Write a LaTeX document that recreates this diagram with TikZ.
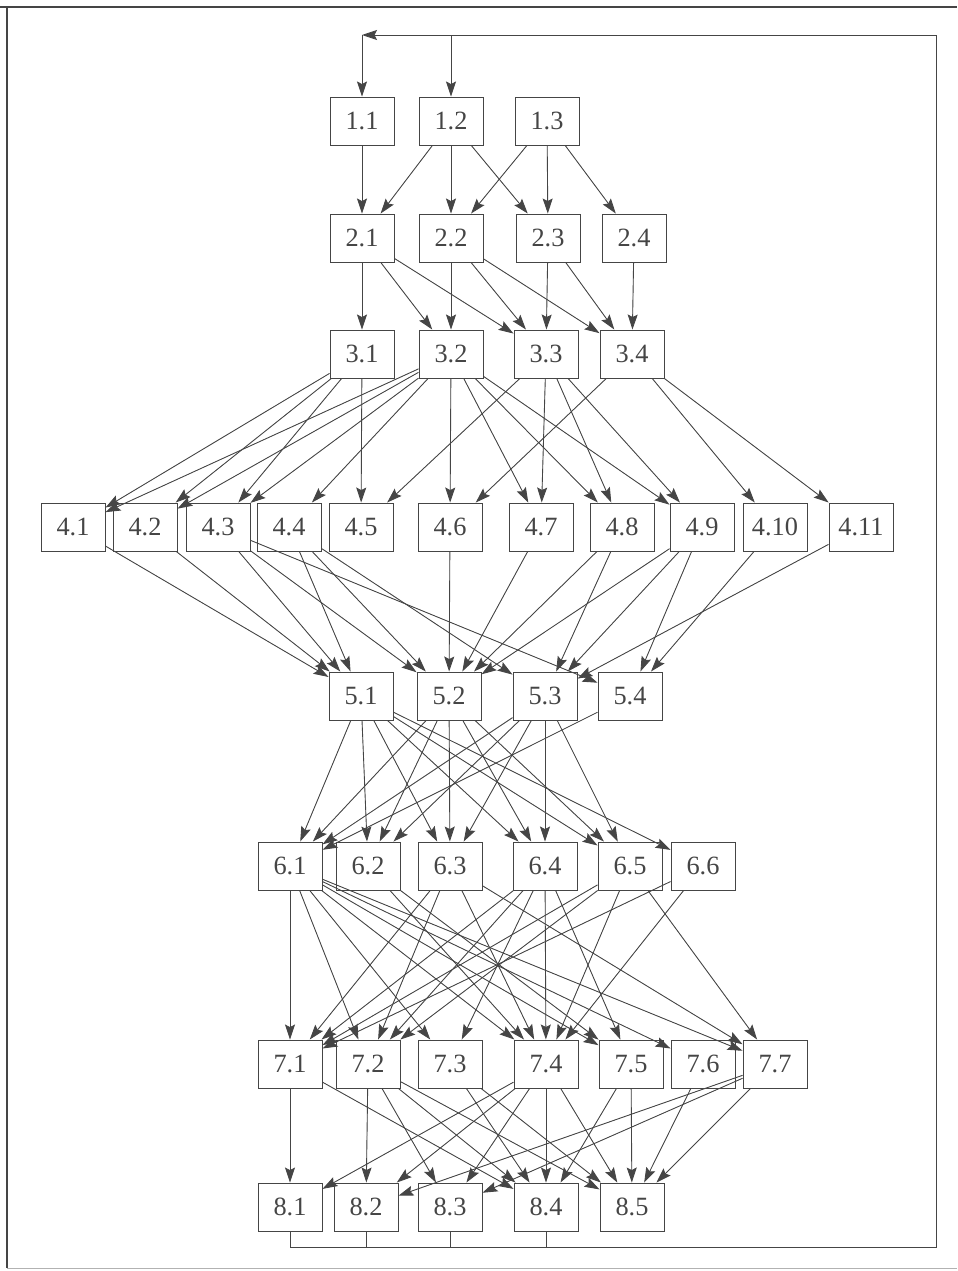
\documentclass[tikz,border=0pt]{standalone}
\usepackage{fontspec}
\setmainfont{Liberation Serif}
\usetikzlibrary{arrows.meta}
\definecolor{ink}{HTML}{454545}

\begin{document}
\begin{tikzpicture}[
        x=0.02cm, y=-0.02cm,
        box/.style={draw=ink, line width=0.55pt, minimum height=0.96cm, minimum width=1.28cm, inner sep=0pt, text=ink, font=\fontsize{15}{17}\selectfont},
        arr/.style={-{Stealth[length=3mm, width=2mm, inset=0.5mm]}, draw=ink, fill=ink, line width=0.5pt},
        wire/.style={draw=ink, line width=0.5pt}
    ]
    \useasboundingbox (0,0) rectangle (957,1271);
    % page frame
    \draw[ink, line width=1pt] (0,7) -- (957,7);
    \draw[ink, line width=1pt] (7,7) -- (7,1268);
    \draw[gray!60, line width=0.5pt] (7,1268) -- (957,1268);

    % level 1
    \node[box] (n11) at (362,121) {1.1};
    \node[box] (n12) at (451,121) {1.2};
    \node[box] (n13) at (547,121) {1.3};
    % level 2
    \node[box] (n21) at (362,238) {2.1};
    \node[box] (n22) at (451,238) {2.2};
    \node[box] (n23) at (548,238) {2.3};
    \node[box] (n24) at (634,238) {2.4};
    % level 3
    \node[box] (n31) at (362,354) {3.1};
    \node[box] (n32) at (451,354) {3.2};
    \node[box] (n33) at (546,354) {3.3};
    \node[box] (n34) at (632,354) {3.4};
    % level 4
    \node[box] (n41)  at (73,527)  {4.1};
    \node[box] (n42)  at (145,527) {4.2};
    \node[box] (n43)  at (218,527) {4.3};
    \node[box] (n44)  at (289,527) {4.4};
    \node[box] (n45)  at (361,527) {4.5};
    \node[box] (n46)  at (450,527) {4.6};
    \node[box] (n47)  at (541,527) {4.7};
    \node[box] (n48)  at (622,527) {4.8};
    \node[box] (n49)  at (702,527) {4.9};
    \node[box] (n410) at (775,527) {4.10};
    \node[box] (n411) at (861,527) {4.11};
    % level 5
    \node[box] (n51) at (361,696) {5.1};
    \node[box] (n52) at (449,696) {5.2};
    \node[box] (n53) at (545,696) {5.3};
    \node[box] (n54) at (630,696) {5.4};
    % level 6
    \node[box] (n61) at (290,866) {6.1};
    \node[box] (n62) at (368,866) {6.2};
    \node[box] (n63) at (450,866) {6.3};
    \node[box] (n64) at (545,866) {6.4};
    \node[box] (n65) at (630,866) {6.5};
    \node[box] (n66) at (703,866) {6.6};
    % level 7
    \node[box] (n71) at (290,1064) {7.1};
    \node[box] (n72) at (368,1064) {7.2};
    \node[box] (n73) at (450,1064) {7.3};
    \node[box] (n74) at (546,1064) {7.4};
    \node[box] (n75) at (631,1064) {7.5};
    \node[box] (n76) at (703,1064) {7.6};
    \node[box] (n77) at (775,1064) {7.7};
    % level 8
    \node[box] (n81) at (290,1207) {8.1};
    \node[box] (n82) at (366,1207) {8.2};
    \node[box] (n83) at (450,1207) {8.3};
    \node[box] (n84) at (546,1207) {8.4};
    \node[box] (n85) at (632,1207) {8.5};

    % 1 -> 2
    \draw[arr] (n11) -- (n21);
    \draw[arr] (n12) -- (n21); \draw[arr] (n12) -- (n22); \draw[arr] (n12) -- (n23);
    \draw[arr] (n13) -- (n22); \draw[arr] (n13) -- (n23); \draw[arr] (n13) -- (n24);
    % 2 -> 3
    \draw[arr] (n21) -- (n31); \draw[arr] (n21) -- (n32); \draw[arr] (n21) -- (n33);
    \draw[arr] (n22) -- (n32); \draw[arr] (n22) -- (n33); \draw[arr] (n22) -- (n34);
    \draw[arr] (n23) -- (n33); \draw[arr] (n23) -- (n34);
    \draw[arr] (n24) -- (n34);
    % 3 -> 4
    \draw[arr] (n31) -- (n41); \draw[arr] (n31) -- (n42); \draw[arr] (n31) -- (n43); \draw[arr] (n31) -- (n45);
    \draw[arr] (n32) -- (n41); \draw[arr] (n32) -- (n42); \draw[arr] (n32) -- (n43); \draw[arr] (n32) -- (n44);
    \draw[arr] (n32) -- (n46); \draw[arr] (n32) -- (n47); \draw[arr] (n32) -- (n48); \draw[arr] (n32) -- (n49);
    \draw[arr] (n33) -- (n45); \draw[arr] (n33) -- (n47); \draw[arr] (n33) -- (n48); \draw[arr] (n33) -- (n49);
    \draw[arr] (n34) -- (n46); \draw[arr] (n34) -- (n410); \draw[arr] (n34) -- (n411);
    % 4 -> 5
    \draw[arr] (n41) -- (n51);
    \draw[arr] (n42) -- (n51);
    \draw[arr] (n43) -- (n51); \draw[arr] (n43) -- (n52); \draw[arr] (n43) -- (n54);
    \draw[arr] (n44) -- (n51); \draw[arr] (n44) -- (n52); \draw[arr] (n44) -- (n53);
    \draw[arr] (n46) -- (n52);
    \draw[arr] (n47) -- (n52);
    \draw[arr] (n48) -- (n52); \draw[arr] (n48) -- (n53);
    \draw[arr] (n49) -- (n52); \draw[arr] (n49) -- (n53); \draw[arr] (n49) -- (n54);
    \draw[arr] (n410) -- (n54);
    \draw[arr] (n411) -- (n53);
    % 5 -> 6
    \draw[arr] (n51) -- (n61); \draw[arr] (n51) -- (n62); \draw[arr] (n51) -- (n63);
    \draw[arr] (n51) -- (n64); \draw[arr] (n51) -- (n65); \draw[arr] (n51) -- (n66);
    \draw[arr] (n52) -- (n61); \draw[arr] (n52) -- (n62); \draw[arr] (n52) -- (n63);
    \draw[arr] (n52) -- (n64); \draw[arr] (n52) -- (n65);
    \draw[arr] (n53) -- (n61); \draw[arr] (n53) -- (n62); \draw[arr] (n53) -- (n63);
    \draw[arr] (n53) -- (n64); \draw[arr] (n53) -- (n65);
    \draw[arr] (n54) -- (n61);
    % 6 -> 7
    \draw[arr] (n61) -- (n71); \draw[arr] (n61) -- (n72); \draw[arr] (n61) -- (n73); \draw[arr] (n61) -- (n74);
    \draw[arr] (n61) -- (n75); \draw[arr] (n61) -- (n76); \draw[arr] (n61) -- (n77);
    \draw[arr] (n62) -- (n74); \draw[arr] (n62) -- (n75);
    \draw[arr] (n63) -- (n71); \draw[arr] (n63) -- (n72); \draw[arr] (n63) -- (n74); \draw[arr] (n63) -- (n77);
    \draw[arr] (n64) -- (n71); \draw[arr] (n64) -- (n72); \draw[arr] (n64) -- (n73); \draw[arr] (n64) -- (n74); \draw[arr] (n64) -- (n75);
    \draw[arr] (n65) -- (n71); \draw[arr] (n65) -- (n72); \draw[arr] (n65) -- (n74); \draw[arr] (n65) -- (n77);
    \draw[arr] (n66) -- (n71); \draw[arr] (n66) -- (n74);
    % 7 -> 8
    \draw[arr] (n71) -- (n81); \draw[arr] (n71) -- (n84);
    \draw[arr] (n72) -- (n82); \draw[arr] (n72) -- (n83); \draw[arr] (n72) -- (n84); \draw[arr] (n72) -- (n85);
    \draw[arr] (n73) -- (n84); \draw[arr] (n73) -- (n85);
    \draw[arr] (n74) -- (n81); \draw[arr] (n74) -- (n82); \draw[arr] (n74) -- (n83); \draw[arr] (n74) -- (n84); \draw[arr] (n74) -- (n85);
    \draw[arr] (n75) -- (n84); \draw[arr] (n75) -- (n85);
    \draw[arr] (n76) -- (n85);
    \draw[arr] (n77) -- (n82); \draw[arr] (n77) -- (n83); \draw[arr] (n77) -- (n85);

    % feedback loop from level 8 back to level 1
    \coordinate (busr) at (936,1247);
    \coordinate (topr) at (936,35);
    \coordinate (topl) at (362,35);
    \draw[wire] (n81.south) -- (n81.south |- busr);
    \draw[wire] (n82.south) -- (n82.south |- busr);
    \draw[wire] (n83.south) -- (n83.south |- busr);
    \draw[wire] (n84.south) -- (n84.south |- busr);
    \draw[wire] (n81.south |- busr) -- (busr) -- (topr);
    \draw[arr] (topr) -- (topl);
    \draw[arr] (topl) -- (n11);
    \draw[arr] (n12 |- topl) -- (n12);
\end{tikzpicture}
\end{document}
